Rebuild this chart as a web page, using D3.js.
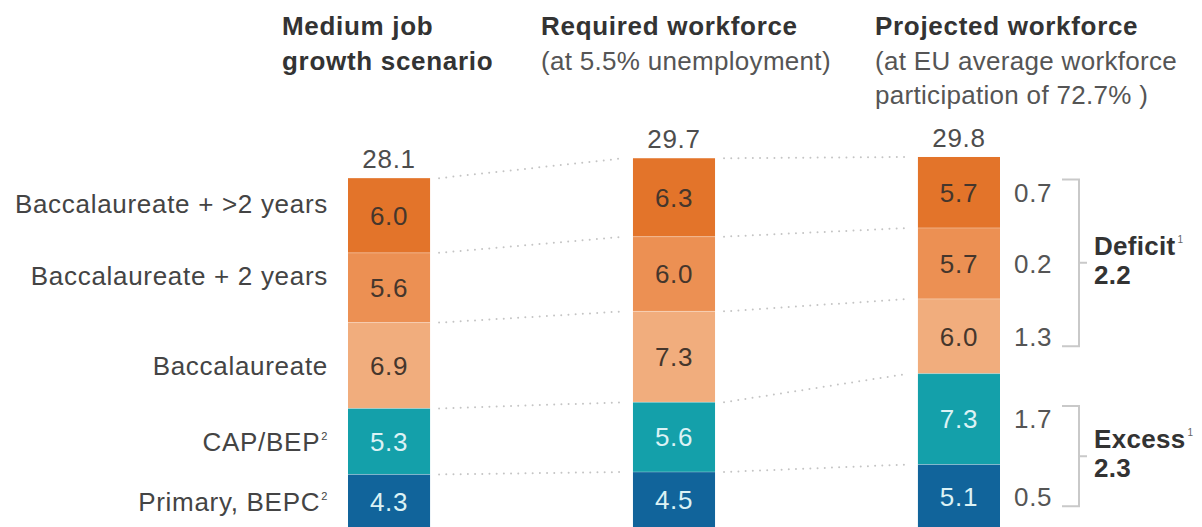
<!DOCTYPE html>
<html>
<head>
<meta charset="utf-8">
<script src="https://cdn.jsdelivr.net/npm/d3@7"></script>
<style>
  html, body { margin: 0; padding: 0; background: #fff; }
  svg { display: block; font-family: "Liberation Sans", Arial, Helvetica, sans-serif; }
</style>
</head>
<body>
<svg id="chart" width="1202" height="527"></svg>
<script>
// Education levels, listed top to bottom of each stack
const categories = [
  "Baccalaureate + >2 years",
  "Baccalaureate + 2 years",
  "Baccalaureate",
  "CAP/BEP",
  "Primary, BEPC"
];
const categoryNotes = ["", "", "", "2", "2"];

// Workforce in each education level (same order as categories)
const columns = ["scenario", "required", "projected"];
const scenarioValues  = [6.0, 5.6, 6.9, 5.3, 4.3];
const requiredValues  = [6.3, 6.0, 7.3, 5.6, 4.5];
const projectedValues = [5.7, 5.7, 6.0, 7.3, 5.1];

// Gap between required and projected workforce per level
const gapLabels = ["0.7", "0.2", "1.3", "1.7", "0.5"];
const groups = [
  { name: "Deficit", note: "1", total: "2.2", from: 0, to: 2 },
  { name: "Excess",  note: "1", total: "2.3", from: 3, to: 4 }
];

// Column headings: bold lines, then regular lines
const headings = [
  { bold: ["Medium job", "growth scenario"], plain: [] },
  { bold: ["Required workforce"], plain: ["(at 5.5% unemployment)"] },
  { bold: ["Projected workforce"], plain: ["(at EU average workforce", "participation of 72.7% )"] }
];

const colors = ["#e3742a", "#ec9053", "#f1ad7d", "#14a0aa", "#11649b"];
const textColors = ["#45362c", "#45362c", "#45362c", "#dcf2f5", "#dcf2f5"];

// ---- layout ----
const svg = d3.select("#chart");
const FS = 26;
const LS = 0.7;
const headingX = [282, 541, 875];
const labelNudge = [-12, -12, 0, 0, 0];

const x = d3.scaleBand()
  .domain(columns)
  .range([348, 1000])
  .paddingInner(0.712)
  .paddingOuter(0);

const y = d3.scaleLinear().domain([0, 30]).range([528, 528 - 30 * 12.45]);

const valuesByColumn = { scenario: scenarioValues, required: requiredValues, projected: projectedValues };

// Stack each column from the bottom level upwards
function stackColumn(vals) {
  const segs = [];
  let acc = 0;
  for (let i = vals.length - 1; i >= 0; i--) {
    segs[i] = { index: i, value: vals[i], y0: acc, y1: acc + vals[i] };
    acc += vals[i];
  }
  return { segs, total: acc };
}
const stacks = columns.map(c => ({ key: c, ...stackColumn(valuesByColumn[c]) }));

// Dotted connectors between neighbouring columns at every segment top
const dots = svg.append("g").attr("class", "connectors");
for (let k = 0; k < stacks.length - 1; k++) {
  const a = stacks[k], b = stacks[k + 1];
  const xa = x(a.key) + x.bandwidth() + 9;
  const xb = x(b.key) - 9;
  categories.forEach((_, i) => {
    dots.append("line")
      .attr("x1", xa).attr("x2", xb)
      .attr("y1", y(a.segs[i].y1)).attr("y2", y(b.segs[i].y1))
      .attr("stroke", "#c4c4c4")
      .attr("stroke-width", 2)
      .attr("stroke-linecap", "round")
      .attr("stroke-dasharray", "0 7.2");
  });
}

// Bars
const colG = svg.selectAll("g.col").data(stacks).join("g").attr("class", "col");
colG.selectAll("rect").data(d => d.segs.map(s => ({ ...s, key: d.key }))).join("rect")
  .attr("x", d => x(d.key))
  .attr("width", x.bandwidth())
  .attr("y", d => y(d.y1))
  .attr("height", d => y(d.y0) - y(d.y1))
  .attr("fill", d => colors[d.index]);

// Faint separators between segments
colG.selectAll("line.sep").data(d => d.segs.slice(1).map(s => ({ ...s, key: d.key }))).join("line")
  .attr("class", "sep")
  .attr("x1", d => x(d.key)).attr("x2", d => x(d.key) + x.bandwidth())
  .attr("y1", d => y(d.y1)).attr("y2", d => y(d.y1))
  .attr("stroke", "#ffffff").attr("stroke-opacity", 0.3).attr("stroke-width", 1);

// Segment values
colG.selectAll("text.val").data(d => d.segs.map(s => ({ ...s, key: d.key }))).join("text")
  .attr("class", "val")
  .attr("x", d => x(d.key) + x.bandwidth() / 2)
  .attr("y", d => (y(d.y0) + y(d.y1)) / 2)
  .attr("dy", "0.36em")
  .attr("text-anchor", "middle")
  .attr("font-size", FS)
  .attr("letter-spacing", LS)
  .attr("fill", d => textColors[d.index])
  .text(d => d3.format(".1f")(d.value));

// Totals above the bars
colG.append("text")
  .attr("x", d => x(d.key) + x.bandwidth() / 2)
  .attr("y", d => y(d.total) - 10)
  .attr("text-anchor", "middle")
  .attr("font-size", FS)
  .attr("letter-spacing", LS)
  .attr("fill", "#4d4d4d")
  .text(d => d3.format(".1f")(d.total));

// Category labels left of the first column
const first = stacks[0];
const catG = svg.append("g");
categories.forEach((c, i) => {
  const s = first.segs[i];
  const t = catG.append("text")
    .attr("x", x(first.key) - 20)
    .attr("y", (y(s.y0) + y(s.y1)) / 2 + labelNudge[i])
    .attr("dy", "0.36em")
    .attr("text-anchor", "end")
    .attr("font-size", FS)
    .attr("letter-spacing", LS)
    .attr("fill", "#444");
  t.append("tspan").text(c);
  if (categoryNotes[i]) {
    t.append("tspan").attr("font-size", 11).attr("dy", "-1em").attr("dx", 1).text(categoryNotes[i]);
  }
});

// Gap values right of the last column
const last = stacks[stacks.length - 1];
const gapX = x(last.key) + x.bandwidth() + 14;
gapLabels.forEach((g, i) => {
  const s = last.segs[i];
  svg.append("text")
    .attr("x", gapX)
    .attr("y", (y(s.y0) + y(s.y1)) / 2)
    .attr("dy", "0.36em")
    .attr("font-size", FS)
    .attr("letter-spacing", LS)
    .attr("fill", "#555")
    .text(g);
});

// Brackets grouping the gaps
const bx0 = 1062, bx1 = 1079;
groups.forEach(gr => {
  const sTop = last.segs[gr.from], sBot = last.segs[gr.to];
  const top = (y(sTop.y0) + y(sTop.y1)) / 2 - 13;
  const bot = (y(sBot.y0) + y(sBot.y1)) / 2 + 10;
  const mid = (top + bot) / 2;
  svg.append("path")
    .attr("d", `M${bx0},${top}H${bx1}V${bot}H${bx0}M${bx1},${mid}H${bx1 + 8}`)
    .attr("fill", "none")
    .attr("stroke", "#c9c9c9")
    .attr("stroke-width", 2);
  const t = svg.append("text")
    .attr("x", 1094).attr("y", mid - 8)
    .attr("font-size", FS).attr("font-weight", "bold").attr("fill", "#333")
    .attr("letter-spacing", 0.3);
  t.append("tspan").text(gr.name);
  t.append("tspan").attr("font-size", 10).attr("font-weight", "normal").attr("fill", "#666").attr("dy", "-1.2em").attr("dx", 2).text(gr.note);
  svg.append("text")
    .attr("x", 1094).attr("y", mid + 21)
    .attr("font-size", FS).attr("font-weight", "bold").attr("fill", "#333")
    .attr("letter-spacing", 0.3)
    .text(gr.total);
});

// Column headings
headings.forEach((h, k) => {
  const lines = h.bold.map(t => ({ t, bold: true })).concat(h.plain.map(t => ({ t, bold: false })));
  lines.forEach((ln, j) => {
    svg.append("text")
      .attr("x", headingX[k])
      .attr("y", 35 + j * 34.5)
      .attr("font-size", FS)
      .attr("letter-spacing", ln.bold ? 0.7 : 0.3)
      .attr("font-weight", ln.bold ? "bold" : "normal")
      .attr("fill", ln.bold ? "#333" : "#555")
      .text(ln.t);
  });
});
</script>
</body>
</html>
